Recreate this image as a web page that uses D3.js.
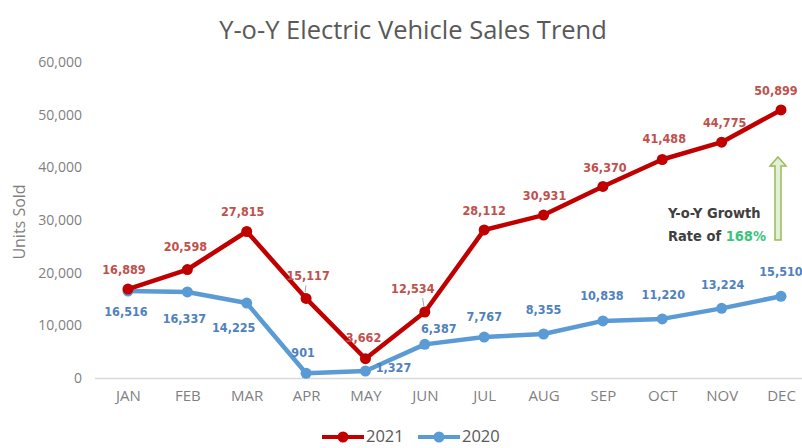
<!DOCTYPE html>
<html>
<head>
<meta charset="utf-8">
<script src="https://cdn.jsdelivr.net/npm/d3@7"></script>
<style>
  body { margin: 0; background: #fff; }
  svg { display: block; }
</style>
</head>
<body>
<div id="chart_div"></div>
<script>
// data
const months = ["JAN","FEB","MAR","APR","MAY","JUN","JUL","AUG","SEP","OCT","NOV","DEC"];
const sales2021 = [16889, 20598, 27815, 15117, 3662, 12534, 28112, 30931, 36370, 41488, 44775, 50899];
const sales2020 = [16516, 16337, 14225, 901, 1327, 6387, 7767, 8355, 10838, 11220, 13224, 15510];
const yTicks = [0, 10000, 20000, 30000, 40000, 50000, 60000];
const growthRate = "168%";

// label nudges (px) so they sit where the original put them
const off2021 = [[-4,-19],[-2,-22],[-4,-19],[2,-22],[-2,-20],[-12,-22],[0,-18],[1,-19],[2,-18],[2,-20],[3,-19],[-5,-18]];
const off2020 = [[-2,21],[-3,28],[-13,25],[-3,-20],[28,-3],[14,-15],[0,-20],[0,-23],[-1,-24],[1,-23],[1,-23],[0,-24]];

const RED = "#c00000", RED_TXT = "#c0504d";
const BLUE = "#5b9bd5", BLUE_TXT = "#4f81bd";
const GREY = "#7f7f7f";

const width = 802, height = 448;

const svg = d3.select("#chart_div")
  .append("svg")
  .attr("width", width)
  .attr("height", height)
  .attr("viewBox", `0 0 ${width} ${height}`);

// scales
const x = d3.scalePoint()
  .domain(months)
  .range([128, 781]);

const y = d3.scaleLinear()
  .domain([0, 60000])
  .range([378, 62]);

// title
svg.append("text")
  .attr("x", 413)
  .attr("y", 39)
  .attr("text-anchor", "middle")
  .style("font-family", "'Open Sans', sans-serif")
  .style("font-size", "25.5px")
  .style("fill", "#595959")
  .text("Y-o-Y Electric Vehicle Sales Trend");

// y axis (labels only)
const yAxis = svg.append("g")
  .attr("transform", "translate(82,0)")
  .call(d3.axisLeft(y).tickValues(yTicks).tickSize(0).tickPadding(0).tickFormat(d3.format(",")));
yAxis.select(".domain").remove();
yAxis.selectAll("text")
  .style("font-family", "'Open Sans', sans-serif")
  .style("font-size", "14px")
  .style("fill", GREY);

// x axis
const xAxis = svg.append("g")
  .attr("transform", "translate(0,378)")
  .call(d3.axisBottom(x).tickSize(0).tickPadding(12));
xAxis.select(".domain")
  .attr("d", "M95,0.5H802")
  .attr("stroke", "#d9d9d9")
  .attr("stroke-width", 1.5);
xAxis.selectAll("text")
  .style("font-family", "'Open Sans', sans-serif")
  .style("font-size", "15px")
  .style("fill", GREY);

// y title
svg.append("text")
  .attr("transform", "translate(25,222) rotate(-90)")
  .attr("text-anchor", "middle")
  .style("font-family", "'Open Sans', sans-serif")
  .style("font-size", "16px")
  .style("fill", GREY)
  .text("Units Sold");

// lines
const line = d3.line()
  .x((d, i) => x(months[i]))
  .y(d => y(d));

const drawSeries = (vals, color) => {
  svg.append("path")
    .datum(vals)
    .attr("fill", "none")
    .attr("stroke", color)
    .attr("stroke-width", 4.5)
    .attr("stroke-linejoin", "round")
    .attr("d", line);
  svg.selectAll(null)
    .data(vals)
    .enter()
    .append("circle")
    .attr("cx", (d, i) => x(months[i]))
    .attr("cy", d => y(d))
    .attr("r", 5.5)
    .attr("fill", color);
}

drawSeries(sales2020, BLUE);
drawSeries(sales2021, RED);

// leader lines for a couple of labels
[[3, 4, -7], [5, -6, -8]].forEach(([i, lx, ly]) => {
  const px = x(months[i]), py = y(sales2021[i]);
  svg.append("line")
    .attr("x1", px - 1).attr("y1", py - 6)
    .attr("x2", px - 1 + lx * 0.2).attr("y2", py - 6 + ly)
    .attr("stroke", "#a6a6a6")
    .attr("stroke-width", 1);
});

// data labels
const drawLabels = (vals, offs, color) => {
  svg.selectAll(null)
    .data(vals)
    .enter()
    .append("text")
    .attr("x", (d, i) => x(months[i]) + offs[i][0])
    .attr("y", (d, i) => y(d) + offs[i][1])
    .attr("text-anchor", "middle")
    .attr("dominant-baseline", "middle")
    .style("font-family", "'DejaVu Sans Condensed', 'DejaVu Sans', sans-serif")
    .style("font-weight", "bold")
    .style("font-size", "12.5px")
    .style("fill", color)
    .text(d => d3.format(",")(d));
}

drawLabels(sales2021, off2021, RED_TXT);
drawLabels(sales2020, off2020, BLUE_TXT);

// growth arrow
const ax = 778, aTop = 157, aBot = 240;
svg.append("path")
  .attr("d", `M${ax},${aTop} L${ax + 8},${aTop + 9} L${ax + 3},${aTop + 9} L${ax + 3},${aBot} L${ax - 3},${aBot} L${ax - 3},${aTop + 9} L${ax - 8},${aTop + 9} Z`)
  .attr("fill", "#e2efd9")
  .attr("stroke", "#9bbb59")
  .attr("stroke-width", 1.5);

const note = svg.append("g")
  .style("font-family", "'DejaVu Sans Condensed', 'DejaVu Sans', sans-serif")
  .style("font-weight", "bold")
  .style("font-size", "14.5px")
  .style("fill", "#404040");
note.append("text")
  .attr("x", 668).attr("y", 218)
  .text("Y-o-Y Growth");
const rate = note.append("text")
  .attr("x", 668).attr("y", 241)
  .text("Rate of ");
rate.append("tspan")
  .style("fill", "#3cc47c")
  .text(growthRate);

// legend
const legend = [
  { name: "2021", color: RED, x: 322 },
  { name: "2020", color: BLUE, x: 418 }
];
const lg = svg.append("g");
legend.forEach(d => {
  lg.append("line")
    .attr("x1", d.x).attr("x2", d.x + 42)
    .attr("y1", 437).attr("y2", 437)
    .attr("stroke", d.color)
    .attr("stroke-width", 4);
  lg.append("circle")
    .attr("cx", d.x + 21).attr("cy", 437)
    .attr("r", 5.5)
    .attr("fill", d.color);
  lg.append("text")
    .attr("x", d.x + 44).attr("y", 438)
    .attr("dominant-baseline", "middle")
    .style("font-family", "'Open Sans', sans-serif")
    .style("font-size", "16.5px")
    .style("fill", "#595959")
    .text(d.name);
});
</script>
</body>
</html>
